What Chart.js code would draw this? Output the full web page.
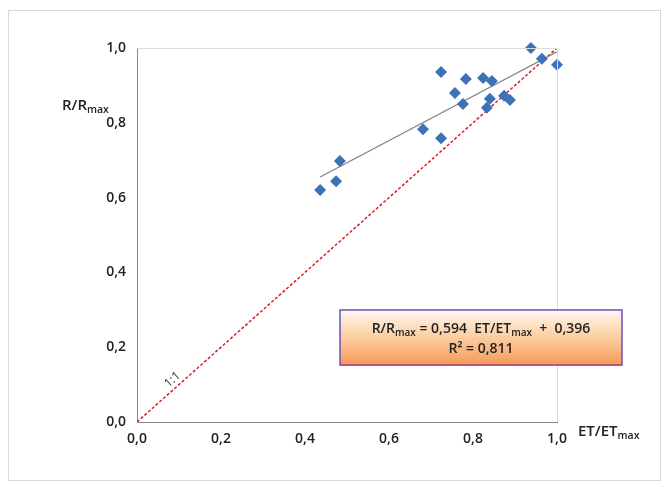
<!DOCTYPE html>
<html><head><meta charset="utf-8">
<script src="https://cdn.jsdelivr.net/npm/chart.js@4"></script>
<style>html,body{margin:0;padding:0;background:#fff}#w{width:670px;height:487px;position:relative}</style>
</head><body><div id="w"><canvas id="c"></canvas></div>
<script>
const etValues=[0.436,0.474,0.483,0.681,0.724,0.724,0.757,0.776,0.783,0.824,0.845,0.840,0.833,0.874,0.888,0.938,0.964,1.0];
const rValues=[0.620,0.644,0.698,0.783,0.759,0.936,0.880,0.850,0.917,0.920,0.912,0.864,0.840,0.872,0.861,1.0,0.971,0.955];
const slope=0.594, intercept=0.396;
const trendX=[0.436,1.0];
const oneToOneX=[0,1];
const tickValues=[0,0.2,0.4,0.6,0.8,1.0];
const FONT='"Open Sans", sans-serif';

const pts=etValues.map((x,i)=>({x,y:rValues[i]}));
const trend=trendX.map(x=>({x,y:slope*x+intercept}));
const diag=oneToOneX.map(x=>({x,y:x}));

function sub(ctx,x,y,main,s,size,align){
  ctx.font='600 '+size+'px '+FONT;
  const w1=ctx.measureText(main).width;
  ctx.font='600 '+(size*0.7)+'px '+FONT;
  const w2=ctx.measureText(s).width;
  let x0=align==='center'?x-(w1+w2)/2:(align==='right'?x-w1-w2:x);
  ctx.textAlign='left';ctx.textBaseline='alphabetic';
  ctx.font='600 '+size+'px '+FONT;ctx.fillText(main,x0,y);
  ctx.font='600 '+(size*0.7)+'px '+FONT;ctx.fillText(s,x0+w1,y+3);
  return w1+w2;
}
const deco={id:'deco',
 beforeDraw(c){const ctx=c.ctx;ctx.save();ctx.strokeStyle='#d9d9d9';ctx.lineWidth=1;ctx.strokeRect(8.5,10.5,652,470);ctx.restore();},
 afterDraw(c){
  const ctx=c.ctx,a=c.chartArea,xs=c.scales.x,ys=c.scales.y;
  ctx.save();
  ctx.strokeStyle='#dcdcdc';ctx.lineWidth=1;
  ctx.beginPath();ctx.moveTo(a.left,a.top+0.5);ctx.lineTo(a.right+0.5,a.top+0.5);ctx.lineTo(a.right+0.5,a.bottom);ctx.stroke();
  ctx.fillStyle='#222';
  sub(ctx,62,110,'R/R','max',15,'left');
  sub(ctx,578,436,'ET/ET','max',15,'left');
  ctx.save();ctx.translate(xs.getPixelForValue(0.09),ys.getPixelForValue(0.09)-6);
  ctx.rotate(-Math.atan2(ys.getPixelForValue(0)-ys.getPixelForValue(1),xs.getPixelForValue(1)-xs.getPixelForValue(0)));
  ctx.font='12px '+FONT;ctx.textAlign='center';ctx.fillStyle='#333';ctx.fillText('1:1',0,0);ctx.restore();
  const bx=340,by=310,bw=282,bh=55;
  const g=ctx.createLinearGradient(0,by,0,by+bh);
  g.addColorStop(0,'#fff7ef');g.addColorStop(0.45,'#fcd2a8');g.addColorStop(1,'#f59a55');
  ctx.fillStyle=g;ctx.fillRect(bx,by,bw,bh);
  ctx.lineWidth=1.5;ctx.strokeStyle='#6a52b8';ctx.strokeRect(bx,by,bw,bh);
  ctx.strokeStyle='#c8506a';ctx.beginPath();ctx.moveTo(bx,by+bh);ctx.lineTo(bx+bw,by+bh);ctx.stroke();
  ctx.fillStyle='#222';
  const parts=[['R/R',14],['max',10],[' = 0,594  ET/ET',14],['max',10],['  +  0,396',14]];
  let tw=0;parts.forEach(p=>{ctx.font='600 '+p[1]+'px '+FONT;tw+=ctx.measureText(p[0]).width;});
  let px=bx+bw/2-tw/2;ctx.textAlign='left';
  parts.forEach(p=>{ctx.font='600 '+p[1]+'px '+FONT;ctx.fillText(p[0],px,by+23+(p[1]<14?3:0));px+=ctx.measureText(p[0]).width;});
  ctx.font='600 14px '+FONT;ctx.textAlign='center';ctx.fillText('R² = 0,811',bx+bw/2,by+43);
  ctx.restore();
 }};
new Chart(document.getElementById('c'),{
 data:{datasets:[
  {type:'scatter',data:pts,pointStyle:'rectRot',pointRadius:6,pointHoverRadius:6,backgroundColor:'#3d72b8',borderColor:'#3d72b8',borderWidth:0,clip:false,order:1},
  {type:'line',data:trend,borderColor:'#808080',borderWidth:1.2,pointRadius:0,order:2},
  {type:'line',data:diag,borderColor:'#d62020',borderWidth:1.5,borderDash:[3,2],pointRadius:0,order:3}
 ]},
 options:{responsive:true,maintainAspectRatio:false,animation:false,
  layout:{padding:{left:0,top:48,right:113,bottom:0}},
  plugins:{legend:{display:false},tooltip:{enabled:false}},
  scales:{
   x:{type:'linear',min:0,max:1,afterFit(s){s.height=65;},
      afterBuildTicks(s){s.ticks=tickValues.map(v=>({value:v}));},
      grid:{display:false,drawTicks:true,tickLength:5,tickColor:'#888'},border:{color:'#888'},
      ticks:{color:'#222',font:{family:FONT,size:14,weight:'600'},padding:4,callback:v=>v.toFixed(1).replace('.',','),maxRotation:0}},
   y:{type:'linear',min:0,max:1,afterFit(s){s.width=137;},
      afterBuildTicks(s){s.ticks=tickValues.map(v=>({value:v}));},
      grid:{display:false,drawTicks:true,tickLength:5,tickColor:'#888'},border:{color:'#888'},
      ticks:{color:'#222',font:{family:FONT,size:14,weight:'600'},padding:6,callback:v=>v.toFixed(1).replace('.',',')}}
  }},
 plugins:[deco]});
</script></body></html>
